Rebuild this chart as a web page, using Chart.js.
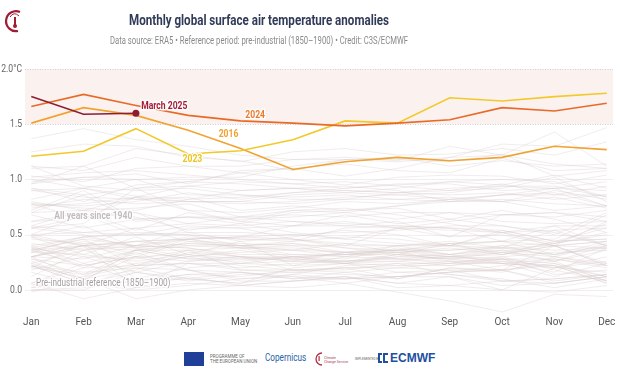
<!DOCTYPE html>
<html>
<head>
<meta charset="utf-8">
<script src="https://cdn.jsdelivr.net/npm/chart.js@4/dist/chart.umd.min.js"></script>
<style>
  html, body { margin: 0; padding: 0; background: #fff; }
  body { width: 620px; height: 385px; position: relative; overflow: hidden; font-family: 'Roboto', sans-serif; }
  #wrap { position: absolute; left: 0; top: 0; width: 620px; height: 332px; }
  .cond { position: absolute; white-space: nowrap; transform-origin: center center; }
  #title { left: 59px; width: 400px; top: 12px; text-align: center; font-size: 14.5px; font-weight: bold;
           color: #303b58; transform: scaleX(0.8); }
  #sub { left: 59px; width: 400px; top: 35px; text-align: center; font-size: 10px; color: #8a8a8a;
         transform: scaleX(0.77); }
  #logo { position: absolute; left: 4px; top: 8px; }
  #foot { position: absolute; top: 349px; left: 184px; height: 18px; }
  .eu { position: absolute; left: 0; top: 3px; width: 20px; height: 14px; background: #1f3f99; }
  .prog { position: absolute; left: 26px; top: 5px; font-size: 4.5px; line-height: 5px; color: #666; white-space: nowrap; }
  .cop { position: absolute; left: 81px; top: 3px; font-size: 10px; color: #2b62a8; white-space: nowrap;
         transform: scaleX(0.82); transform-origin: left center; }
  .c3s { position: absolute; left: 140px; top: 7px; font-size: 3.5px; line-height: 4px; color: #b04050; white-space: nowrap; }
  .impl { position: absolute; left: 171px; top: 8px; font-size: 3px; color: #666; white-space: nowrap; }
  .ecm { position: absolute; left: 206px; top: 2px; font-size: 12px; font-weight: bold; color: #1f4f9f;
         font-family: 'Liberation Sans', sans-serif; white-space: nowrap; }
  #c3slogo { position: absolute; left: 129px; top: 2px; }
  #ecmlogo { position: absolute; left: 193px; top: 4px; }
</style>
</head>
<body>
<div id="wrap"><canvas id="myChart" width="620" height="332"></canvas></div>
<svg id="logo" width="22" height="26" viewBox="0 0 22 26">
  <path d="M16 4 A10 10 0 1 0 14 23" fill="none" stroke="#a01c35" stroke-width="2.2"/>
  <path d="M6 9 Q10 3 15 8" fill="none" stroke="#a01c35" stroke-width="1"/>
  <rect x="10" y="9" width="2" height="8" fill="#a01c35"/>
  <circle cx="11" cy="18" r="2" fill="#a01c35"/>
</svg>
<div id="title" class="cond">Monthly global surface air temperature anomalies</div>
<div id="sub" class="cond">Data source: ERA5 • Reference period: pre-industrial (1850–1900) • Credit: C3S/ECMWF</div>
<div id="foot">
  <div class="eu"></div>
  <div class="prog">PROGRAMME OF<br>THE EUROPEAN UNION</div>
  <div class="cop">Copernicus</div>
  <svg id="c3slogo" width="12" height="16" viewBox="0 0 12 16">
    <path d="M9 2 A6 6 0 1 0 9 14" fill="none" stroke="#b03048" stroke-width="1.3"/>
    <rect x="5.5" y="5" width="1.2" height="5" fill="#b03048"/>
  </svg>
  <div class="c3s">Climate<br>Change Service</div>
  <div class="impl">IMPLEMENTED BY</div>
  <svg id="ecmlogo" width="12" height="10" viewBox="0 0 12 10">
    <path d="M5 1 H2 V9 H5 M11 1 H7 V9 H11" fill="none" stroke="#1f4f9f" stroke-width="2"/>
  </svg>
  <div class="ecm">ECMWF</div>
</div>
<script>
let months=["Jan","Feb","Mar","Apr","May","Jun","Jul","Aug","Sep","Oct","Nov","Dec"]
let yTicks=[0,0.5,1.0,1.5,2.0]

let y2016=[1.51,1.65,1.58,1.445,1.28,1.09,1.16,1.20,1.17,1.20,1.30,1.27]
let y2023=[1.21,1.255,1.46,1.23,1.26,1.36,1.53,1.51,1.74,1.71,1.75,1.78]
let y2024=[1.66,1.77,1.67,1.58,1.53,1.51,1.485,1.51,1.54,1.65,1.62,1.69]
let y2025=[1.75,1.59,1.60]

// grey background years 1940-2022 (2016 drawn separately)
let greyYears={
1940:[0.30,0.40,0.38,0.42,0.40,0.36,0.34,0.34,0.36,0.40,0.42,0.52],
1941:[0.36,0.46,0.40,0.48,0.46,0.44,0.48,0.46,0.40,0.54,0.44,0.46],
1942:[0.40,0.24,0.36,0.40,0.40,0.42,0.38,0.36,0.36,0.38,0.40,0.38],
1943:[0.30,0.44,0.32,0.46,0.38,0.36,0.42,0.40,0.40,0.52,0.40,0.44],
1944:[0.46,0.42,0.40,0.46,0.48,0.50,0.52,0.54,0.58,0.58,0.52,0.40],
1945:[0.36,0.22,0.30,0.44,0.38,0.40,0.40,0.56,0.48,0.50,0.40,0.22],
1946:[0.38,0.30,0.28,0.36,0.18,0.16,0.20,0.20,0.24,0.24,0.22,0.06],
1947:[0.22,0.10,0.30,0.26,0.28,0.28,0.24,0.30,0.32,0.40,0.30,0.24],
1948:[0.30,0.10,0.18,0.34,0.30,0.26,0.24,0.22,0.22,0.26,0.22,0.12],
1949:[0.28,0.14,0.24,0.30,0.22,0.18,0.20,0.22,0.26,0.28,0.20,0.16],
1950:[0.02,0.06,0.16,0.08,0.14,0.16,0.14,0.12,0.12,0.04,0.06,0.12],
1951:[0.00,0.00,0.16,0.26,0.30,0.30,0.32,0.36,0.40,0.38,0.32,0.40],
1952:[0.34,0.32,0.26,0.32,0.28,0.30,0.32,0.36,0.32,0.24,0.12,0.24],
1953:[0.36,0.40,0.44,0.46,0.40,0.42,0.34,0.36,0.30,0.36,0.32,0.38],
1954:[0.06,0.24,0.08,0.10,0.06,0.14,0.10,0.12,0.16,0.22,0.26,0.08],
1955:[0.22,0.06,0.00,0.04,0.10,0.12,0.10,0.16,0.14,0.10,0.02,0.10],
1956:[0.06,-0.08,0.02,0.06,0.04,0.08,0.12,0.02,0.04,0.08,0.10,0.14],
1957:[0.06,0.20,0.22,0.30,0.34,0.36,0.30,0.40,0.42,0.32,0.40,0.44],
1958:[0.56,0.50,0.38,0.30,0.36,0.28,0.34,0.28,0.24,0.30,0.34,0.36],
1959:[0.30,0.28,0.40,0.38,0.30,0.26,0.26,0.30,0.28,0.24,0.20,0.26],
1960:[0.30,0.40,0.02,0.24,0.24,0.22,0.24,0.26,0.30,0.26,0.16,0.38],
1961:[0.38,0.48,0.40,0.38,0.32,0.32,0.30,0.28,0.26,0.24,0.28,0.20],
1962:[0.34,0.40,0.30,0.32,0.24,0.30,0.26,0.26,0.22,0.28,0.28,0.22],
1963:[0.20,0.42,0.10,0.20,0.24,0.26,0.34,0.36,0.42,0.44,0.40,0.22],
1964:[0.24,0.10,-0.08,0.00,0.04,0.02,0.06,-0.02,-0.10,-0.20,-0.04,-0.06],
1965:[0.22,0.16,0.20,0.10,0.16,0.12,0.06,0.12,0.16,0.18,0.08,0.14],
1966:[0.18,0.30,0.16,0.10,0.06,0.20,0.24,0.16,0.18,0.08,0.10,0.14],
1967:[0.16,0.04,0.20,0.18,0.10,0.14,0.22,0.24,0.24,0.28,0.14,0.18],
1968:[0.02,0.12,0.34,0.18,0.08,0.08,0.10,0.12,0.16,0.18,0.06,0.12],
1969:[0.20,0.14,0.36,0.42,0.40,0.32,0.32,0.34,0.38,0.32,0.44,0.46],
1970:[0.36,0.46,0.22,0.24,0.18,0.18,0.16,0.10,0.20,0.18,0.22,0.06],
1971:[0.22,0.06,0.08,0.14,0.16,0.10,0.16,0.20,0.18,0.18,0.24,0.12],
1972:[0.04,0.12,0.22,0.24,0.20,0.24,0.26,0.32,0.30,0.34,0.26,0.40],
1973:[0.40,0.48,0.52,0.50,0.46,0.46,0.38,0.32,0.28,0.30,0.18,0.08],
1974:[0.00,0.02,0.08,0.14,0.12,0.18,0.18,0.24,0.14,0.08,0.06,0.12],
1975:[0.28,0.22,0.30,0.18,0.16,0.10,0.12,0.06,0.04,0.00,-0.02,0.04],
1976:[-0.02,0.10,0.02,0.12,0.04,0.08,0.12,0.06,0.12,0.00,0.20,0.30],
1977:[0.24,0.36,0.44,0.46,0.48,0.46,0.42,0.34,0.26,0.18,0.40,0.24],
1978:[0.30,0.38,0.36,0.28,0.30,0.18,0.20,0.10,0.20,0.16,0.30,0.22],
1979:[0.26,0.08,0.36,0.28,0.26,0.30,0.24,0.32,0.42,0.44,0.46,0.68],
1980:[0.42,0.36,0.40,0.56,0.56,0.46,0.40,0.40,0.44,0.38,0.54,0.40],
1981:[0.78,0.64,0.70,0.52,0.44,0.48,0.54,0.50,0.40,0.34,0.42,0.60],
1982:[0.12,0.36,0.22,0.36,0.30,0.28,0.26,0.28,0.30,0.32,0.40,0.62],
1983:[0.80,0.72,0.66,0.54,0.60,0.52,0.46,0.56,0.56,0.44,0.58,0.40],
1984:[0.48,0.32,0.48,0.32,0.44,0.22,0.30,0.34,0.30,0.28,0.24,0.08],
1985:[0.38,0.20,0.36,0.36,0.38,0.30,0.28,0.38,0.32,0.36,0.26,0.36],
1986:[0.48,0.40,0.44,0.40,0.38,0.38,0.34,0.40,0.32,0.38,0.36,0.38],
1987:[0.48,0.58,0.38,0.46,0.48,0.58,0.68,0.60,0.64,0.58,0.50,0.70],
1988:[0.68,0.56,0.64,0.66,0.66,0.62,0.60,0.58,0.56,0.52,0.42,0.50],
1989:[0.34,0.48,0.50,0.50,0.40,0.44,0.56,0.58,0.56,0.54,0.44,0.56],
1990:[0.56,0.60,0.92,0.72,0.62,0.58,0.58,0.62,0.48,0.68,0.70,0.62],
1991:[0.62,0.70,0.54,0.70,0.62,0.72,0.74,0.68,0.60,0.52,0.54,0.56],
1992:[0.58,0.52,0.56,0.44,0.42,0.40,0.32,0.32,0.28,0.34,0.30,0.42],
1993:[0.50,0.52,0.50,0.52,0.52,0.50,0.46,0.42,0.40,0.44,0.32,0.44],
1994:[0.50,0.40,0.56,0.60,0.58,0.62,0.58,0.56,0.62,0.68,0.70,0.66],
1995:[0.72,0.90,0.64,0.66,0.60,0.70,0.72,0.74,0.64,0.72,0.64,0.52],
1996:[0.50,0.68,0.50,0.58,0.56,0.58,0.62,0.56,0.54,0.52,0.58,0.58],
1997:[0.56,0.66,0.70,0.60,0.66,0.72,0.70,0.76,0.82,0.86,0.86,0.86],
1998:[0.96,1.12,0.92,0.98,0.96,0.92,0.94,0.90,0.80,0.80,0.72,0.76],
1999:[0.70,0.86,0.62,0.66,0.64,0.66,0.70,0.64,0.70,0.68,0.66,0.72],
2000:[0.58,0.72,0.74,0.78,0.66,0.68,0.66,0.70,0.70,0.62,0.60,0.62],
2001:[0.70,0.72,0.84,0.80,0.78,0.80,0.84,0.86,0.82,0.80,0.90,0.82],
2002:[0.96,1.02,1.00,0.86,0.86,0.84,0.86,0.82,0.84,0.80,0.84,0.74],
2003:[0.90,0.84,0.82,0.80,0.80,0.78,0.82,0.88,0.90,0.96,0.86,0.94],
2004:[0.82,0.92,0.82,0.84,0.72,0.76,0.72,0.76,0.80,0.86,0.92,0.76],
2005:[0.92,0.86,0.92,0.94,0.90,0.92,0.90,0.88,0.92,0.94,0.94,0.84],
2006:[0.74,0.82,0.78,0.80,0.80,0.86,0.88,0.86,0.88,0.94,0.92,0.98],
2007:[1.12,0.94,0.90,0.92,0.86,0.82,0.82,0.82,0.80,0.82,0.78,0.76],
2008:[0.62,0.65,0.84,0.72,0.70,0.74,0.80,0.78,0.82,0.86,0.88,0.76],
2009:[0.78,0.74,0.72,0.82,0.84,0.88,0.92,0.96,0.96,0.90,0.92,0.90],
2010:[1.02,1.06,1.08,1.04,1.00,0.96,0.98,0.94,0.90,0.92,1.02,0.80],
2011:[0.78,0.76,0.80,0.88,0.82,0.88,0.90,0.88,0.86,0.88,0.82,0.86],
2012:[0.76,0.78,0.84,0.94,0.98,0.96,0.92,0.95,0.98,1.00,0.98,0.84],
2013:[0.90,0.92,0.85,0.82,0.90,0.92,0.88,0.92,0.98,0.95,1.04,0.92],
2014:[0.92,0.80,0.95,0.98,1.06,1.00,0.95,1.02,1.04,1.03,0.96,1.04],
2015:[0.98,1.02,1.05,0.96,1.08,1.10,1.03,1.10,1.20,1.32,1.30,1.47],
2017:[1.25,1.32,1.30,1.20,1.17,1.08,1.18,1.20,1.12,1.17,1.12,1.14],
2018:[1.03,0.98,1.10,1.12,1.06,1.10,1.14,1.08,1.06,1.19,1.08,1.10],
2019:[1.10,1.12,1.28,1.22,1.16,1.25,1.28,1.22,1.23,1.28,1.22,1.34],
2020:[1.37,1.46,1.36,1.30,1.22,1.18,1.20,1.17,1.30,1.22,1.43,1.12],
2021:[1.00,0.92,1.00,1.02,1.02,1.12,1.18,1.16,1.20,1.22,1.14,1.10],
2022:[1.12,1.08,1.20,1.12,1.12,1.18,1.18,1.18,1.16,1.23,1.03,1.08]
}

let c2016="#f0a332"
let c2023="#f2c92b"
let c2024="#e96a28"
let c2025="#8c1d33"
let font="'Roboto', sans-serif"

function pts(arr){
  return arr.map((v,i)=>({x:i,y:v}))
}

let datasets=[]
datasets.push({data:pts(y2025),borderColor:c2025,borderWidth:1.6,order:0,
  pointRadius:arr=>arr.dataIndex==2?3.5:0,pointBackgroundColor:c2025,pointBorderWidth:0})
datasets.push({data:pts(y2024),borderColor:c2024,borderWidth:1.6,order:1,pointRadius:0})
datasets.push({data:pts(y2023),borderColor:c2023,borderWidth:1.6,order:2,pointRadius:0})
datasets.push({data:pts(y2016),borderColor:c2016,borderWidth:1.6,order:3,pointRadius:0})
Object.keys(greyYears).forEach(yr=>{
  datasets.push({data:pts(greyYears[yr]),borderColor:"rgba(214,198,198,0.34)",borderWidth:1,order:10,pointRadius:0})
})

// labels placed at data positions
let notes=[
  {t:"March 2025",x:2.1,y:1.665,c:"#a31d38",b:true,s:11,a:"left"},
  {t:"2024",x:4.28,y:1.58,c:"#ea7a2e",b:true,s:11,a:"center"},
  {t:"2016",x:3.77,y:1.405,c:c2016,b:true,s:11,a:"center"},
  {t:"2023",x:3.08,y:1.18,c:"#ecc41f",b:true,s:11,a:"center"},
  {t:"All years since 1940",x:0.44,y:0.67,c:"#c4bcbc",b:true,s:11,a:"left"},
  {t:"Pre-industrial reference (1850–1900)",x:0.09,y:0.06,c:"#a8a0a0",b:false,s:10.5,a:"left"}
]

function condText(c,txt,x,y,sx){
  c.save()
  c.translate(x,y)
  c.scale(sx,1)
  c.lineWidth=3; c.strokeStyle="rgba(255,255,255,0.9)"; c.lineJoin="round"
  c.strokeText(txt,0,0)
  c.fillText(txt,0,0)
  c.restore()
}

let bandPlugin={
  id:"band",
  beforeDatasetsDraw(chart){
    let c=chart.ctx, a=chart.chartArea, ys=chart.scales.y
    let top=ys.getPixelForValue(2.0), b15=ys.getPixelForValue(1.5)
    c.save()
    c.fillStyle="#fbf2f0"
    c.fillRect(a.left,top,a.right-a.left,b15-top)
    yTicks.forEach(v=>{
      let p=Math.round(ys.getPixelForValue(v))+0.5
      c.beginPath()
      if(v>=1.5){ c.strokeStyle="#cfcfcf"; c.setLineDash([1,1.5]); c.lineWidth=1.2 }
      else { c.strokeStyle="#f1eeee"; c.setLineDash([]); c.lineWidth=1 }
      c.moveTo(a.left,p); c.lineTo(a.right,p); c.stroke()
    })
    c.restore()
  },
  afterDatasetsDraw(chart){
    let c=chart.ctx, xs=chart.scales.x, ys=chart.scales.y
    c.save()
    c.textBaseline="middle"
    notes.forEach(n=>{
      c.font=(n.b?"bold ":"")+n.s+"px "+font
      c.textAlign=n.a
      c.fillStyle=n.c
      condText(c,n.t,xs.getPixelForValue(n.x),ys.getPixelForValue(n.y),0.78)
    })
    // y tick labels, condensed
    c.font="10.5px "+font
    c.textAlign="right"
    c.fillStyle="#666"
    ys.ticks.forEach(t=>{
      let lbl=t.value==2?"2.0°C":t.value.toFixed(1)
      c.save()
      c.translate(chart.chartArea.left-3,ys.getPixelForValue(t.value))
      c.scale(0.82,1)
      c.fillText(lbl,0,0)
      c.restore()
    })
    c.restore()
  }
}

let ctx=document.getElementById("myChart").getContext("2d")
let myChart=new Chart(ctx,{
  type:"line",
  data:{datasets:datasets},
  options:{
    responsive:false,
    animation:false,
    events:[],
    clip:false,
    layout:{padding:{top:69,left:0,right:7,bottom:0}},
    plugins:{legend:{display:false},tooltip:{enabled:false}},
    scales:{
      x:{type:"linear",min:-0.12,max:11.12,
        afterBuildTicks:s=>{s.ticks=months.map((m,i)=>({value:i}))},
        ticks:{callback:v=>months[v],color:"#555",font:{family:font,size:10},padding:4,maxRotation:0,autoSkip:false},
        grid:{display:false,drawTicks:false},border:{display:false}},
      y:{type:"linear",min:-0.2,max:2.0,
        afterBuildTicks:s=>{s.ticks=yTicks.map(v=>({value:v}))},
        afterFit:s=>{s.width=25},
        ticks:{display:false},
        grid:{display:false,drawTicks:false},border:{display:false}}
    }
  },
  plugins:[bandPlugin]
})
</script>
</body>
</html>
